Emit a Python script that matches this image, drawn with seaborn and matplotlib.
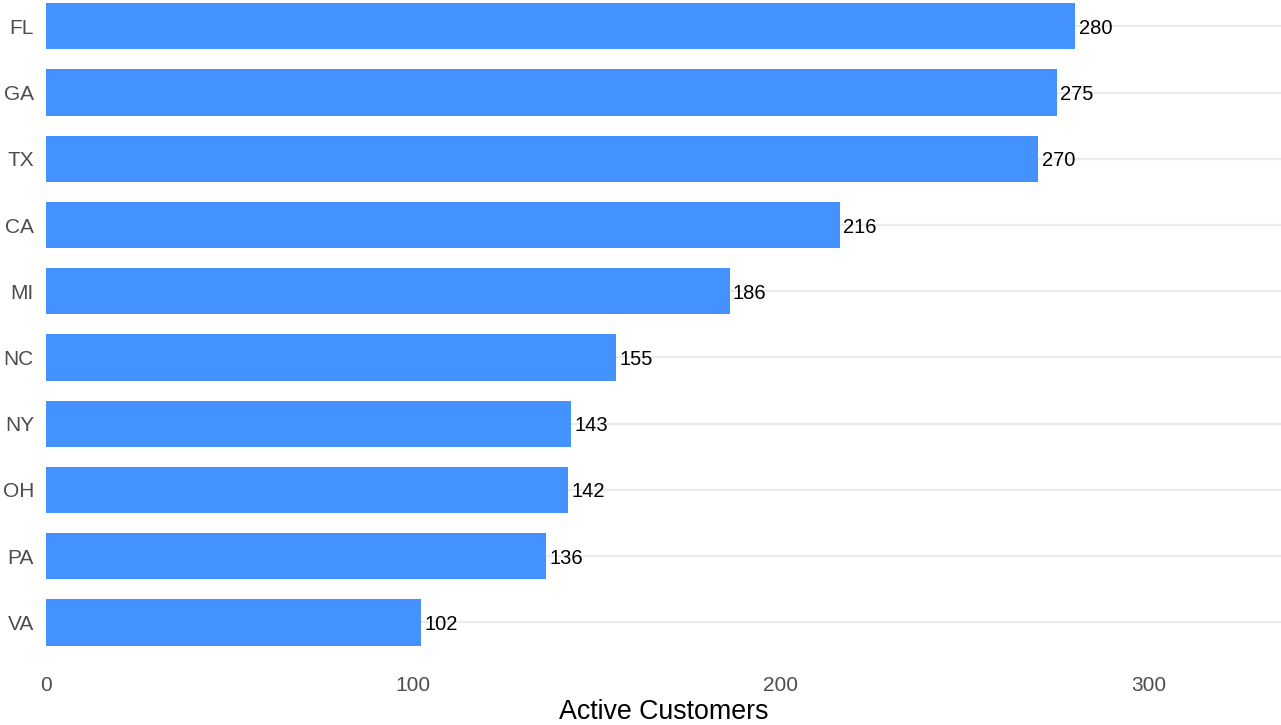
import matplotlib
matplotlib.use("Agg")
import matplotlib.pyplot as plt
import seaborn as sns
import pandas as pd

states = ["FL", "GA", "TX", "CA", "MI", "NC", "NY", "OH", "PA", "VA"]
active_customers = [280, 275, 270, 216, 186, 155, 143, 142, 136, 102]
x_ticks = [0, 100, 200, 300]

df = pd.DataFrame({"state": states, "customers": active_customers})

sns.set_theme(style="white")
plt.rcParams["font.family"] = ["Liberation Sans", "DejaVu Sans"]

fig = plt.figure(figsize=(12.81, 7.25), dpi=100)
ax = fig.add_axes([45.7 / 1281, (725 - 662.2) / 725, 1 - 45.7 / 1281, 662.2 / 725])

# light horizontal guides at each category
for i in range(len(states)):
    ax.axhline(i, color="#EBEBEB", lw=1.6, zorder=0)

sns.barplot(data=df, x="customers", y="state", order=states, orient="h",
            color="#4392FF", width=0.7, linewidth=0, saturation=1, ax=ax, zorder=2)

for c in ax.containers:
    labels = ax.bar_label(c, labels=[str(v) for v in active_customers], padding=2.5,
                          fontsize=14.5, color="black")
    for t in labels:
        t.set_va("center_baseline")

ax.set_xlim(0, 336)
ax.set_ylim(len(states) - 0.4, -0.397)
ax.set_xticks(x_ticks)
ax.set_xticklabels([str(t) for t in x_ticks])
ax.tick_params(axis="both", length=0, labelsize=15, labelcolor="#4D4D4D")
ax.tick_params(axis="y", pad=8.5)
ax.tick_params(axis="x", pad=10)
ax.set_ylabel("")
ax.set_xlabel("Active Customers", fontsize=19.3, color="black", labelpad=3)
for s in ax.spines.values():
    s.set_visible(False)
ax.grid(False)

fig.savefig("out.png", dpi=100)
